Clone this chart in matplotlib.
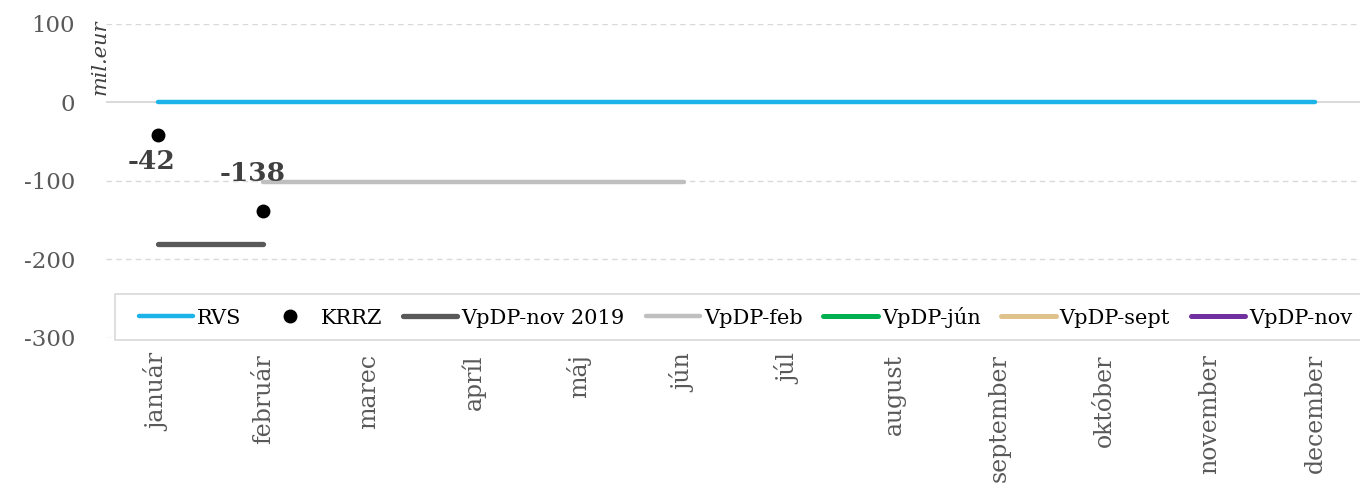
import numpy as np
import matplotlib
matplotlib.use("Agg")
import matplotlib.pyplot as plt
from matplotlib.patches import Rectangle

months = ["január", "február", "marec", "apríl", "máj", "jún", "júl",
          "august", "september", "október", "november", "december"]
nan = np.nan
rvs = [0] * 12
krrz = [-42, -138] + [nan] * 10
vpdp_nov2019 = [-181, -181] + [nan] * 10
vpdp_feb = [nan, -102, -102, -102, -102, -102] + [nan] * 6
vpdp_jun = [nan] * 12
vpdp_sept = [nan] * 12
vpdp_nov = [nan] * 12
y_ticks = [100, 0, -100, -200, -300]
y_tick_labels = ["100", "0", "-100", "-200", "-300"]

plt.rcParams['font.family'] = ['DejaVu Serif']
plt.rcParams['axes.unicode_minus'] = False

W, H = 1360, 484
fig = plt.figure(figsize=(W / 100, H / 100), dpi=100)
ax = fig.add_axes([105.5 / W, 1 - 337.5 / H, (1367.6 - 105.5) / W, (337.5 - 24) / H])
x = np.arange(len(months))

ax.set_xlim(-0.5, 11.5)
ax.set_ylim(-300, 100)

for yv in [100, -100, -200, -300]:
    ax.axhline(yv, color='#D9D9D9', lw=1.0, ls=(0, (4, 3)), zorder=0)
ax.axhline(0, color='#D9D9D9', lw=1.4, zorder=0)

ax.plot(x, rvs, color='#1CB4E8', lw=3.2, solid_capstyle='round', label='RVS', zorder=3)
ax.plot(x, krrz, 'o', color='black', ms=9, label='KRRZ', zorder=5)
ax.plot(x, vpdp_nov2019, color='#595959', lw=3.8, solid_capstyle='round', label='VpDP-nov 2019', zorder=3)
ax.plot(x, vpdp_feb, color='#BFBFBF', lw=3.2, solid_capstyle='round', label='VpDP-feb', zorder=3)
ax.plot(x, vpdp_jun, color='#00B050', lw=3.6, solid_capstyle='round', label='VpDP-jún')
ax.plot(x, vpdp_sept, color='#E0C28C', lw=3.6, solid_capstyle='round', label='VpDP-sept')
ax.plot(x, vpdp_nov, color='#7030A0', lw=3.6, solid_capstyle='round', label='VpDP-nov')

# data labels
offsets = [(-4.5, -19), (-8, 27)]
for i, (dx, dy) in enumerate(offsets):
    ax.annotate(f"{krrz[i]:d}", (x[i], krrz[i]), xytext=(dx, dy),
                textcoords='offset points', ha='center', va='center',
                fontsize=19, fontweight='bold', color='#404040', zorder=6)

for s in ax.spines.values():
    s.set_visible(False)
ax.set_xticks(x)
ax.set_xticklabels(months, rotation=90, fontsize=17, color='#595959', va='top')
ax.set_yticks(y_ticks)
ax.set_yticklabels(y_tick_labels, fontsize=16.5, color='#595959')
ax.tick_params(axis='both', length=0)
ax.tick_params(axis='y', pad=22)
ax.tick_params(axis='x', pad=12)

fig.text(100 / W, 1 - 57 / H, "mil.eur", rotation=90, style='italic', fontsize=15,
         color='#404040', ha='center', va='center')

# legend frame
frame = Rectangle((115 / W, 1 - 340 / H), (1365 - 115) / W, 46 / H,
                  transform=fig.transFigure, facecolor='white',
                  edgecolor='#D9D9D9', lw=1.2, zorder=8, clip_on=False)
ax.add_patch(frame)
leg = ax.legend(loc='center left', bbox_to_anchor=(139 / W, 1 - 317 / H),
                bbox_transform=fig.transFigure, ncol=7, fontsize=15,
                frameon=False, handlelength=2.6, handletextpad=0.2,
                columnspacing=1.0, borderpad=0, borderaxespad=0)
leg.set_zorder(10)
for t in leg.get_texts():
    t.set_color('#000000')

fig.savefig("out.png", dpi=100)
